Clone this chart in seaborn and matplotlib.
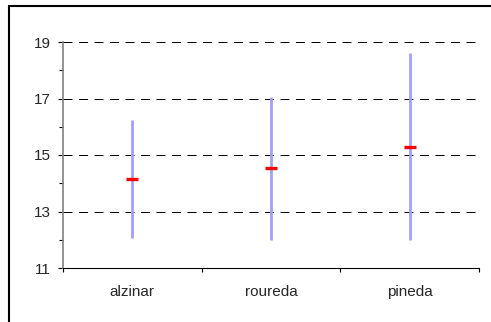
import matplotlib
matplotlib.use("Agg")
import matplotlib.pyplot as plt
from matplotlib.lines import Line2D
import seaborn as sns
import pandas as pd

categories = ["alzinar", "roureda", "pineda"]
min_values = [12.07, 11.98, 11.98]
max_values = [16.24, 17.06, 18.60]
mean_values = [14.16, 14.53, 15.29]
y_ticks = [11, 13, 15, 17, 19]

range_df = pd.DataFrame({
    "site": categories * 2,
    "value": min_values + max_values,
})
mean_df = pd.DataFrame({"site": categories, "value": mean_values})

sns.set_style("white")
plt.rcParams["font.family"] = ["Liberation Sans", "DejaVu Sans"]
plt.rcParams["font.size"] = 11

fig = plt.figure(figsize=(4.91, 3.22), dpi=100)
ax = fig.add_axes([63 / 491, 1 - 268 / 322, (479 - 63) / 491, (268 - 42) / 322])

sns.pointplot(data=range_df, x="site", y="value", order=categories,
              estimator="mean", errorbar=lambda v: (v.min(), v.max()),
              marker="", linestyle="none",
              err_kws={"color": "#9f9fff", "linewidth": 2.0, "solid_capstyle": "butt"},
              ax=ax)
sns.pointplot(data=mean_df, x="site", y="value", order=categories,
              errorbar=None, marker="_", markersize=8, markeredgewidth=2.4,
              linestyle="none", color="#ff0000", ax=ax)

ax.set_xlim(-0.5, 2.5)
ax.set_ylim(11, 19)
ax.set_xlabel("")
ax.set_ylabel("")

ax.set_yticks(y_ticks)
ax.set_yticks([12, 14, 16, 18], minor=True)
ax.set_xticks([-0.5, 0.5, 1.5, 2.5], labels=[])
ax.set_xticks([0, 1, 2], labels=categories, minor=True)

ax.tick_params(axis="y", which="major", direction="out", length=3.6, width=0.8,
               color="#000000", pad=5.0, labelsize=11, left=True)
ax.tick_params(axis="y", which="minor", direction="out", length=2.6, width=0.8,
               color="#000000", left=True)
ax.tick_params(axis="x", which="major", direction="out", length=3.0, width=0.8,
               color="#000000", bottom=True)
ax.tick_params(axis="x", which="minor", length=0, pad=12, labelsize=11, bottom=True)

for y in y_ticks[1:]:
    ax.axhline(y, color="#000000", linewidth=0.72, linestyle=(0, (9, 6.5)), zorder=0)

for side in ["top", "right"]:
    ax.spines[side].set_visible(False)
ax.spines["left"].set_color("#808080")
ax.spines["left"].set_linewidth(1.2)
ax.spines["bottom"].set_color("#000000")
ax.spines["bottom"].set_linewidth(0.8)

fx = 9 / 491
fy = 1 - 6 / 322
fig.add_artist(Line2D([fx, 1], [fy, fy], transform=fig.transFigure, color="black", linewidth=1.5))
fig.add_artist(Line2D([fx, fx], [0, fy], transform=fig.transFigure, color="black", linewidth=1.5))

fig.savefig("out.png", dpi=100)
